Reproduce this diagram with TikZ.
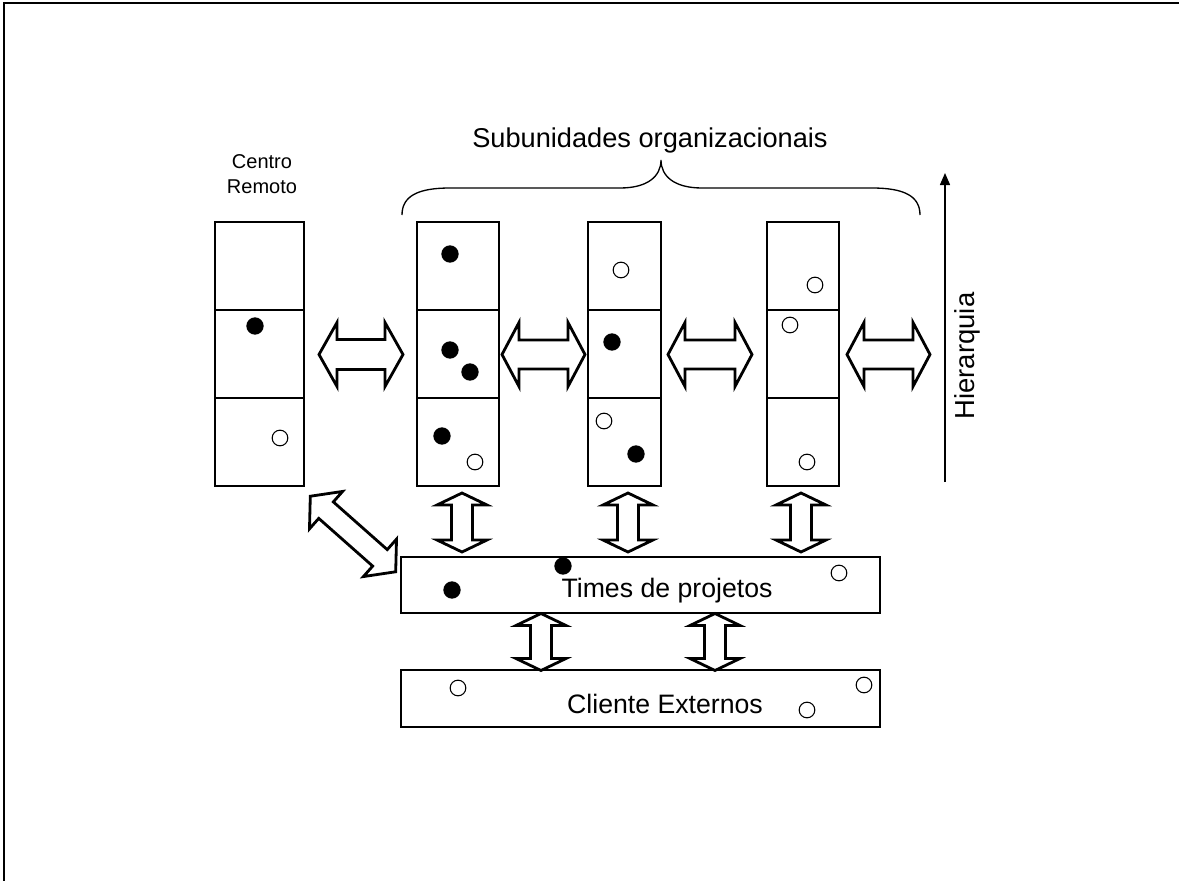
\documentclass[tikz,border=0pt]{standalone}
\usepackage{fontspec}
\setmainfont{Liberation Sans}
\usetikzlibrary{arrows.meta}

% double-headed block arrow: centre x, centre y, angle, half length,
% head length, head half-width, shaft half-width
\newcommand{\dblarrow}[7]{%
  \draw[arrowline, shift={(#1,#2)}, rotate=#3]
    (-#4,0) -- (-#4+#5,-#6) -- (-#4+#5,-#7) -- (#4-#5,-#7) -- (#4-#5,-#6)
    -- (#4,0) -- (#4-#5,#6) -- (#4-#5,#7) -- (-#4+#5,#7) -- (-#4+#5,#6) -- cycle;}

\begin{document}
\begin{tikzpicture}[x=0.75pt,y=-0.75pt,
  cell/.style={draw, line width=1.1pt, rectangle, inner sep=0pt, minimum height=66pt},
  bar/.style={draw, line width=1.1pt, rectangle, inner sep=0pt, minimum width=359.25pt},
  arrowline/.style={draw, line width=2.1pt, fill=white, line join=miter},
  dotf/.style={circle, fill=black, inner sep=0pt, minimum size=13pt},
  doto/.style={circle, draw, line width=0.8pt, fill=white, inner sep=0pt, minimum size=11.75pt},
  lbl/.style={font=\fontsize{20pt}{24pt}\selectfont, inner sep=0pt}]
\useasboundingbox (0,0) rectangle (1179,881);

% outer frame (top and left edges)
\draw[line width=1.5pt] (4,881) -- (4,3) -- (1179,3);

% remote centre column
\node[cell, minimum width=66.75pt] (r1) at (259.5,266) {};
\node[cell, minimum width=66.75pt] (r2) at (259.5,354) {};
\node[cell, minimum width=66.75pt] (r3) at (259.5,442) {};
\node[align=center, inner sep=0pt, font=\fontsize{15pt}{19pt}\selectfont] (centro) at (262,174) {Centro\\Remoto};

% organisational subunit columns
\node[cell, minimum width=61.5pt] (a1) at (458,266) {};
\node[cell, minimum width=61.5pt] (a2) at (458,354) {};
\node[cell, minimum width=61.5pt] (a3) at (458,442) {};
\node[cell, minimum width=54.75pt] (b1) at (624.5,266) {};
\node[cell, minimum width=54.75pt] (b2) at (624.5,354) {};
\node[cell, minimum width=54.75pt] (b3) at (624.5,442) {};
\node[cell, minimum width=54pt] (c1) at (803,266) {};
\node[cell, minimum width=54pt] (c2) at (803,354) {};
\node[cell, minimum width=54pt] (c3) at (803,442) {};

% project teams and external clients
\node[bar, minimum height=42pt] (times) at (640.5,585) {};
\node[lbl] (timestxt) at (667,591) {Times de projetos};
\node[bar, minimum height=42.75pt] (cli) at (640.5,698.5) {};
\node[lbl] (clitxt) at (665,704) {Cliente Externos};

% members
\node[dotf] (m1) at (255,326) {};
\node[doto] (m2) at (280,438) {};
\node[dotf] (m3) at (450,254) {};
\node[dotf] (m4) at (450,350) {};
\node[dotf] (m5) at (470,372) {};
\node[dotf] (m6) at (442,436) {};
\node[doto] (m7) at (475,462) {};
\node[doto] (m8) at (621,270) {};
\node[dotf] (m9) at (612,342) {};
\node[doto] (m10) at (604,421) {};
\node[dotf] (m11) at (636,454) {};
\node[doto] (m12) at (815,285) {};
\node[doto] (m13) at (790,325) {};
\node[doto] (m14) at (807,462) {};
\node[dotf] (m15) at (452,590) {};
\node[dotf] (m16) at (563,566) {};
\node[doto] (m17) at (839,573) {};
\node[doto] (m18) at (458,688) {};
\node[doto] (m19) at (807,710) {};
\node[doto] (m20) at (864,685) {};

% horizontal links between columns
\dblarrow{361}{354.5}{0}{42}{18}{32}{15}
\dblarrow{543.5}{354.5}{0}{41.5}{17}{32}{14.5}
\dblarrow{710}{354.5}{0}{42}{17}{32}{14.5}
\dblarrow{888.5}{354.5}{0}{41.5}{17}{32}{14.5}

% vertical links to the project teams
\dblarrow{462}{522.5}{90}{29.5}{12}{25}{10.5}
\dblarrow{628}{522.5}{90}{29.5}{12}{25}{10.5}
\dblarrow{801}{522.5}{90}{29.5}{12}{25}{10.5}
\dblarrow{541}{642}{90}{28.5}{12}{25}{10.5}
\dblarrow{715}{642}{90}{28.5}{12}{25}{10.5}

% diagonal link from the remote centre
\dblarrow{353}{534}{-41.5}{57}{21}{25}{11}

% brace over the subunits
\draw[line width=1pt] (402,215) .. controls (402,196) and (418,188) .. (450,188)
  -- (620,188) .. controls (648,188) and (661,176) .. (661,160)
  .. controls (661,176) and (674,188) .. (702,188)
  -- (872,188) .. controls (904,188) and (920,196) .. (920,215);
\node[lbl, font=\fontsize{20.4pt}{24pt}\selectfont] (sub) at (650,140) {Subunidades organizacionais};

% hierarchy axis
\draw[line width=1.1pt, -{Triangle[length=9pt,width=7.5pt]}] (945,482) -- (945,173);
\node[lbl, rotate=90, font=\fontsize{20.6pt}{24pt}\selectfont] (hier) at (967,356) {Hierarquia};
\end{tikzpicture}
\end{document}
